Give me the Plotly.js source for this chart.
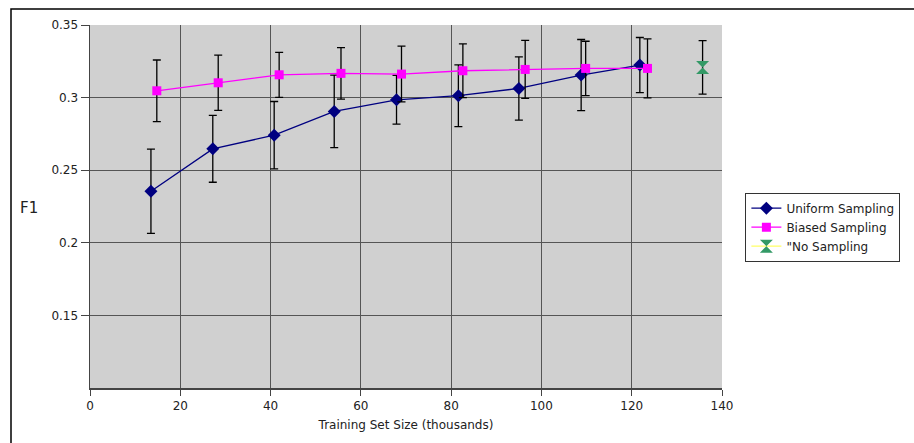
<!DOCTYPE html>
<html>
<head>
<meta charset="utf-8">
<script src="https://cdn.plot.ly/plotly-3.0.1.min.js"></script>
<style>
html,body{margin:0;padding:0;background:#fff;}
#chart{width:914px;height:443px;}
</style>
</head>
<body>
<div id="chart"></div>
<script>
// Data
var uniformX = [13.5, 27.2, 40.8, 54.1, 67.9, 81.6, 95.0, 108.8, 121.8];
var uniformY = [0.2355, 0.2647, 0.2741, 0.2905, 0.2985, 0.3013, 0.3063, 0.3155, 0.3224];
var uniformErr = [0.029, 0.023, 0.0232, 0.025, 0.0168, 0.0213, 0.0218, 0.0245, 0.019];

var biasedX = [14.8, 28.4, 41.9, 55.6, 69.0, 82.6, 96.4, 109.8, 123.5];
var biasedY = [0.3047, 0.3102, 0.3157, 0.3167, 0.3162, 0.3185, 0.3194, 0.3201, 0.3201];
var biasedErr = [0.0212, 0.019, 0.0155, 0.0177, 0.0192, 0.0185, 0.02, 0.0187, 0.0203];

var noSampX = [135.7];
var noSampY = [0.3208];
var noSampErr = [0.0184];

var yTickVals = [0.15, 0.2, 0.25, 0.3, 0.35];
var yTickText = ['0.15', '0.2', '0.25', '0.3', '0.35'];

var errStyle = function(arr){
  return {type:'data', array:arr, visible:true, color:'#000', thickness:1.3, width:4};
};

var traces = [
  {x: uniformX, y: uniformY, name: 'Uniform Sampling', mode: 'lines+markers', type: 'scatter',
   line: {color: '#000080', width: 1.3},
   marker: {symbol: 'diamond', size: 10, color: '#000080'},
   error_y: errStyle(uniformErr)},
  {x: biasedX, y: biasedY, name: 'Biased Sampling', mode: 'lines+markers', type: 'scatter',
   line: {color: '#ff00ff', width: 1.3},
   marker: {symbol: 'square', size: 9, color: '#ff00ff'},
   error_y: errStyle(biasedErr)},
  {x: noSampX, y: noSampY, name: '"No Sampling', mode: 'lines+markers', type: 'scatter',
   line: {color: '#ffff66', width: 1.3},
   marker: {symbol: 'hourglass', size: 13, color: '#339966'},
   error_y: errStyle(noSampErr)}
];

var font = 'DejaVu Sans, Verdana, sans-serif';

var layout = {
  width: 914, height: 443,
  margin: {l: 90, r: 192, t: 25, b: 55, pad: 0},
  paper_bgcolor: '#ffffff',
  plot_bgcolor: '#d0d0d0',
  font: {family: font, size: 12, color: '#222'},
  showlegend: true,
  legend: {
    x: 1.037, y: 0.538, xanchor: 'left', yanchor: 'top',
    bgcolor: '#ffffff', bordercolor: '#333', borderwidth: 1,
    font: {family: font, size: 12, color: '#222'},
    tracegroupgap: 0, itemwidth: 30
  },
  xaxis: {
    range: [0, 140], tickmode: 'linear', tick0: 0, dtick: 20,
    showgrid: true, gridcolor: '#555', gridwidth: 1,
    zeroline: false, showline: true, linecolor: '#444', linewidth: 1.5,
    ticks: 'outside', ticklen: 6, tickcolor: '#444',
    tickfont: {family: font, size: 12, color: '#222'},
    title: {text: 'Training Set Size (thousands)', font: {family: font, size: 12, color: '#222'}, standoff: 8}
  },
  yaxis: {
    range: [0.1, 0.35], tickmode: 'array', tickvals: yTickVals, ticktext: yTickText,
    showgrid: true, gridcolor: '#555', gridwidth: 1,
    zeroline: false, showline: true, linecolor: '#444', linewidth: 1.5,
    ticks: 'outside', ticklen: 8, tickcolor: '#444',
    tickfont: {family: font, size: 12, color: '#222'}
  },
  annotations: [
    {text: 'F1', xref: 'paper', yref: 'paper', x: -0.0965, y: 0.497, xanchor: 'center', yanchor: 'middle',
     showarrow: false, font: {family: font, size: 15, color: '#222'}}
  ],
  shapes: [
    {type: 'rect', xref: 'paper', yref: 'paper', x0: -0.125, x1: 1.33, y0: -0.3, y1: 1.044,
     line: {color: '#000', width: 1.5}, fillcolor: 'rgba(0,0,0,0)', layer: 'below'}
  ]
};

Plotly.newPlot('chart', traces, layout, {displayModeBar: false, staticPlot: true});
</script>
</body>
</html>
